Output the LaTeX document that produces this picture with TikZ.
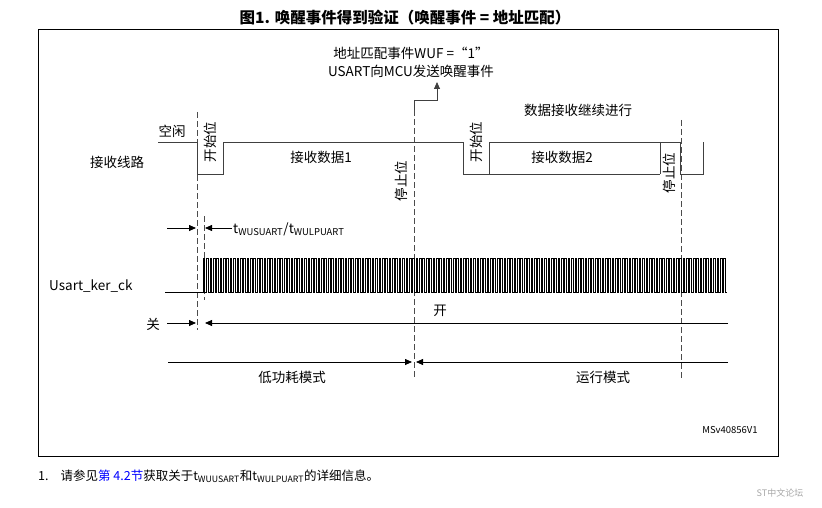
\documentclass[tikz,border=0pt]{standalone}
\usepackage{fontspec}
\setmainfont{Noto Sans CJK SC}
\usetikzlibrary{arrows.meta}
\begin{document}
\begin{tikzpicture}[x=1pt,y=-1pt,
  lbl/.style={inner sep=0pt,font=\fontsize{13.5}{16}\selectfont},
  sig/.style={line width=0.8pt,draw=black!75},
  dsh/.style={line width=0.9pt,dash pattern=on 6pt off 3pt,draw=black!70},
  arr/.style={line width=0.8pt,-{Triangle[length=7pt,width=6pt]}}]
\useasboundingbox (0,0) rectangle (822,508);
\node[lbl,font=\fontsize{15.5}{18}\selectfont\bfseries] (title) at (405,18) {图1. 唤醒事件得到验证（唤醒事件 = 地址匹配）};
\draw[line width=0.6pt] (38,29) rectangle (778,456);
% wake text
\node[lbl,align=center,font=\fontsize{13.5}{18}\selectfont] (wuf) at (411,62) {地址匹配事件WUF =“1”\\USART向MCU发送唤醒事件};
\coordinate (wa) at (414,110);
\coordinate (wb) at (414,100);
\coordinate (wc) at (437,100);
\draw[sig,-{Triangle[length=7pt,width=6pt]}] (wa) -- (wb) -- (wc) -- (437,82);
% dashed lines
\draw[dsh] (197,112) -- (197,330);
\draw[dsh] (204,216) -- (204,300);
\draw[dsh] (414,110) -- (414,378);
\draw[dsh] (681,120) -- (681,378);
% signal
\draw[sig] (158,142) -- (197,142) -- (197,174) -- (223,174) -- (223,142) -- (463,142) -- (463,174) -- (489,174) -- (489,142) -- (680,142) -- (680,174) -- (703,174) -- (703,142);
\draw[sig] (489,174) -- (660,174);
\draw[sig] (660,142) -- (660,174);
\node[lbl] (idle) at (172,131) {空闲};
\node[lbl] (line) at (117,162) {接收线路};
\node[lbl,rotate=90] (s1) at (210,142) {开始位};
\node[lbl,rotate=90] (s2) at (476,142) {开始位};
\node[lbl,rotate=90] (p1) at (401,181) {停止位};
\node[lbl,rotate=90] (p2) at (669,173) {停止位};
\node[lbl] (d1) at (321,157) {接收数据1};
\node[lbl] (d2) at (562,157) {接收数据2};
\node[lbl] (cont) at (578,110) {数据接收继续进行};
% t arrows
\coordinate (t1) at (167,228);
\coordinate (t2) at (196,228);
\coordinate (t3) at (232,228);
\coordinate (t4) at (205,228);
\draw[arr] (t1) -- (t2);
\draw[arr] (t3) -- (t4);
\node[lbl,anchor=west] (tw) at (233,229) {t\textsubscript{WUSUART}/t\textsubscript{WULPUART}};
% clock
\node[lbl,anchor=west] (ck) at (49,286) {Usart\_ker\_ck};
\draw[line width=0.5pt] (165,292) -- (203,292)
  \foreach \i in {0,...,154} { -- ++(0,-34) -- ++(1.69,0) -- ++(0,34) -- ++(1.69,0) };
% on/off
\node[lbl] (off) at (153,324) {关};
\node[lbl] (on) at (440,311) {开};
\coordinate (o1) at (167,323);
\coordinate (o2) at (196,323);
\coordinate (o3) at (728,323);
\coordinate (o4) at (205,323);
\draw[arr] (o1) -- (o2);
\draw[arr] (o3) -- (o4);
% modes
\coordinate (m1) at (168,362);
\coordinate (m2) at (412,362);
\coordinate (m3) at (728,362);
\coordinate (m4) at (416,362);
\draw[arr] (m1) -- (m2);
\draw[arr] (m3) -- (m4);
\node[lbl] (lp) at (292,377) {低功耗模式};
\node[lbl] (run) at (603,377) {运行模式};
\node[lbl,font=\fontsize{9.5}{11}\selectfont] (ms) at (730,430) {MSv40856V1};
\node[lbl,anchor=west,font=\fontsize{12.5}{15}\selectfont] (fn) at (38,476) {1.\hspace{12pt}请参见\textcolor{blue}{\itshape 第 4.2节}获取关于t\textsubscript{WUUSART}和t\textsubscript{WULPUART}的详细信息。};
\node[lbl,font=\fontsize{9}{11}\selectfont,text=black!35] (wm) at (780,493) {ST中文论坛};
\end{tikzpicture}
\end{document}
